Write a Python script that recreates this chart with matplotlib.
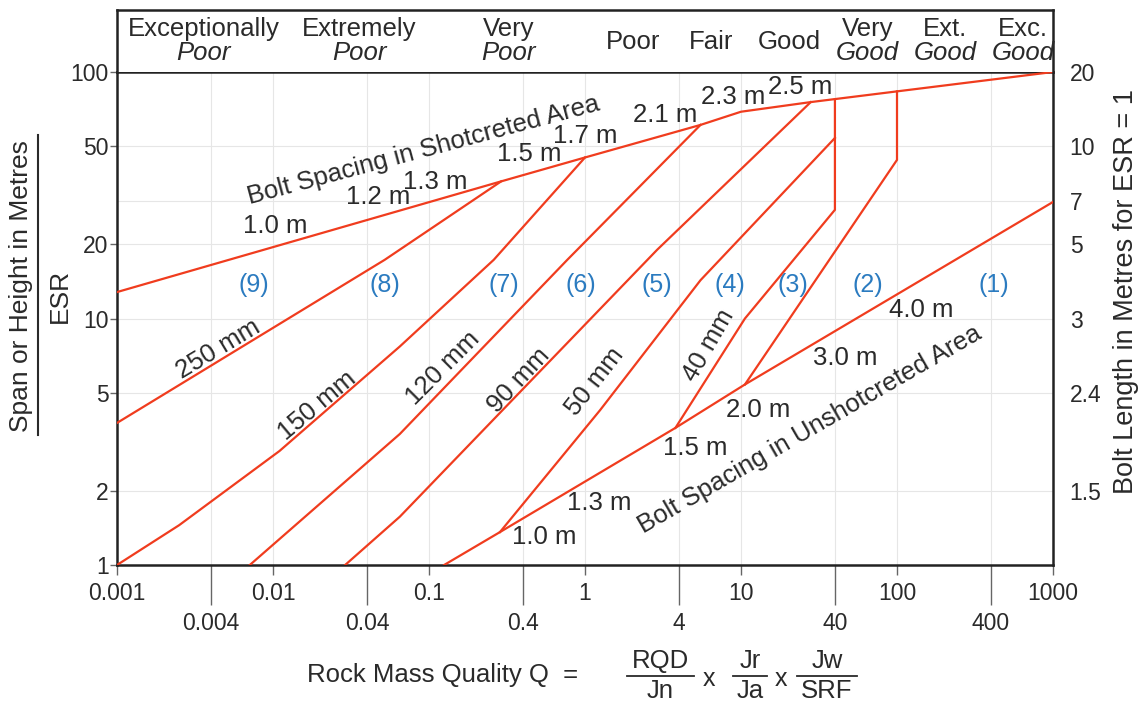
import matplotlib.pyplot as plt
from matplotlib.lines import Line2D
from matplotlib.ticker import NullLocator

plt.rcParams['font.family'] = ['Liberation Sans', 'DejaVu Sans']

# x axis: rock mass quality Q
q_ticks = [0.001, 0.01, 0.1, 1, 10, 100, 1000]
q_ticks_low = [0.004, 0.04, 0.4, 4, 40, 400]
# left axis: span / ESR
span_ticks = [1, 2, 5, 10, 20, 50, 100]
# right axis: bolt length for ESR = 1
bolt_pos = [2, 5, 10, 20, 30, 50, 100]
bolt_len = ['1.5', '2.4', '3', '5', '7', '10', '20']

# rock mass classes along the top
class_edges = [0.001, 0.01, 0.1, 1, 4, 10, 40, 100, 400, 1000]
class_top = ['Exceptionally', 'Extremely', 'Very', 'Poor', 'Fair', 'Good', 'Very', 'Ext.', 'Exc.']
class_bottom = ['Poor', 'Poor', 'Poor', '', '', '', 'Good', 'Good', 'Good']
region_ids = ['(9)', '(8)', '(7)', '(6)', '(5)', '(4)', '(3)', '(2)', '(1)']
region_q = [0.0075, 0.052, 0.3, 0.94, 2.9, 8.5, 21.5, 65, 420]

# bolt spacing boundaries
shot_q = [0.001, 0.29, 1.0, 5.5, 10, 28, 1000]
shot_y = [12.8, 36, 45, 61, 69, 75.5, 100]
unshot_q = [0.125, 0.285, 3.8, 10.6, 1000]
unshot_y = [1.0, 1.36, 3.6, 5.4, 29.7]

# shotcrete thickness curves
t250_q = [0.001, 0.0116, 0.052, 0.29]
t250_y = [3.77, 9.7, 17.3, 36]
t150_q = [0.001, 0.0025, 0.011, 0.065, 0.26, 1.0]
t150_y = [1.0, 1.45, 2.9, 7.7, 17.3, 45]
t120_q = [0.0071, 0.065, 0.77, 5.5]
t120_y = [1.0, 3.4, 17.3, 61]
t90_q = [0.029, 0.065, 2.9, 28]
t90_y = [1.0, 1.57, 19, 75.5]
t50_q = [0.285, 1.25, 5.5, 40]
t50_y = [1.36, 4.25, 14.3, 54]
t40_q = [3.8, 10.6, 40, 40]
t40_y = [3.6, 10, 27.6, 77.6]
b23_q = [10.6, 100, 100]
b23_y = [5.4, 44, 83.4]

RED = '#f03c1e'
BLUE = '#2b7bc0'
TXT = '#2a2a2a'

fig = plt.figure(figsize=(11.39, 7.01), dpi=100)
W, H = 1139, 701
L, R, T, B = 117, 1053, 72, 565
ax = fig.add_axes([L / W, 1 - B / H, (R - L) / W, (B - T) / H])
ax.set_xscale('log')
ax.set_yscale('log')
ax.set_xlim(0.001, 1000)
ax.set_ylim(1, 100)

# faint grid
for q in q_ticks[1:-1] + q_ticks_low:
    ax.axvline(q, color='#e6e6e6', lw=0.8, zorder=0)
for s in [2, 5, 10, 20, 30, 50]:
    ax.axhline(s, color='#e6e6e6', lw=0.8, zorder=0)

for qq, yy in [(shot_q, shot_y), (unshot_q, unshot_y), (t250_q, t250_y),
               (t150_q, t150_y), (t120_q, t120_y), (t90_q, t90_y),
               (t50_q, t50_y), (t40_q, t40_y), (b23_q, b23_y)]:
    ax.plot(qq, yy, color=RED, lw=1.6, solid_joinstyle='miter', zorder=3)

# ticks
ax.set_xticks(q_ticks)
ax.set_xticklabels(['0.001', '0.01', '0.1', '1', '10', '100', '1000'])
ax.set_xticks(q_ticks_low, minor=True)
ax.set_xticklabels(['0.004', '0.04', '0.4', '4', '40', '400'], minor=True)
ax.tick_params(axis='x', which='major', length=7, width=1, pad=5,
               labelsize=16.5, color='#666', labelcolor=TXT)
ax.tick_params(axis='x', which='minor', length=29, width=1, pad=5,
               labelsize=16.5, color='#666', labelcolor=TXT)
ax.set_yticks(span_ticks)
ax.set_yticklabels([str(v) for v in span_ticks])
ax.yaxis.set_minor_locator(NullLocator())
ax.tick_params(axis='y', length=5, width=1, pad=1, labelsize=16.5,
               color='#666', labelcolor=TXT)
for sp in ax.spines.values():
    sp.set_linewidth(1.8)
    sp.set_color('#222')

ax2 = ax.twinx()
ax2.set_yscale('log')
ax2.set_ylim(1, 100)
ax2.set_yticks(bolt_pos)
ax2.set_yticklabels(bolt_len)
ax2.yaxis.set_minor_locator(NullLocator())
ax2.tick_params(axis='y', length=0, pad=12, labelsize=16.5, labelcolor=TXT)
for sp in ax2.spines.values():
    sp.set_visible(False)

# class box on top
axt = fig.add_axes([L / W, 1 - T / H, (R - L) / W, (T - 10) / H])
axt.set_xscale('log')
axt.set_xlim(0.001, 1000)
axt.set_ylim(0, 1)
axt.set_xticks([])
axt.set_yticks([])
axt.xaxis.set_minor_locator(NullLocator())
for sp in axt.spines.values():
    sp.set_linewidth(1.8)
    sp.set_color('#222')
axt.spines['bottom'].set_visible(False)
for i in range(len(class_top)):
    xc = (class_edges[i] * class_edges[i + 1]) ** 0.5
    dx = 6 if i < 2 else 1   # nudge, points
    if class_bottom[i]:
        axt.annotate(class_top[i], (xc, 0.69), xytext=(dx, 0), textcoords='offset points',
                     ha='center', va='center', fontsize=18.5, color=TXT)
        axt.annotate(class_bottom[i], (xc, 0.30), xytext=(dx, 0), textcoords='offset points',
                     ha='center', va='center', fontsize=18.5, style='italic', color=TXT)
    else:
        axt.annotate(class_top[i], (xc, 0.48), xytext=(dx, 0), textcoords='offset points',
                     ha='center', va='center', fontsize=18.5, color=TXT)

# region numbers
for q, lab in zip(region_q, region_ids):
    ax.text(q, 13.7, lab, ha='center', va='center', fontsize=18, color=BLUE)

def lbl(q, y, s, rot=0):
    ax.text(q, y, s, ha='center', va='center', fontsize=18.5, color=TXT,
            rotation=rot, rotation_mode='anchor', zorder=4)

# shotcreted spacing labels
lbl(0.0916, 48.3, 'Bolt Spacing in Shotcreted Area', 15)
lbl(0.0103, 23.7, '1.0 m')
lbl(0.0471, 31.1, '1.2 m')
lbl(0.109, 35.8, '1.3 m')
lbl(0.438, 46.5, '1.5 m')
lbl(1.01, 55, '1.7 m')
lbl(3.26, 66.9, '2.1 m')
lbl(8.9, 79.2, '2.3 m')
lbl(23.9, 86.9, '2.5 m')
# unshotcreted spacing labels
lbl(27.7, 3.53, 'Bolt Spacing in Unshotcreted Area', 30)
lbl(144, 10.8, '4.0 m')
lbl(46.4, 6.9, '3.0 m')
lbl(12.8, 4.25, '2.0 m')
lbl(5.07, 2.98, '1.5 m')
lbl(1.23, 1.78, '1.3 m')
lbl(0.546, 1.30, '1.0 m')
# shotcrete thickness labels
lbl(0.00444, 7.5, '250 mm', 31)
lbl(0.0191, 4.42, '150 mm', 40)
lbl(0.123, 6.3, '120 mm', 45)
lbl(0.378, 5.63, '90 mm', 47)
lbl(1.16, 5.53, '50 mm', 52)
lbl(6.24, 7.8, '40 mm', 60)

# left axis label as a fraction
fig.text(21 / W, 1 - 286 / H, 'Span or Height in Metres', rotation=90,
         ha='center', va='center', fontsize=19, color=TXT)
fig.add_artist(Line2D([38 / W, 38 / W], [1 - 135 / H, 1 - 435 / H],
                      transform=fig.transFigure, color=TXT, lw=1.5))
fig.text(60 / W, 1 - 296 / H, 'ESR', rotation=90, ha='center', va='center',
         fontsize=19, color=TXT)

# right axis label
fig.text(1126 / W, 1 - 292 / H, 'Bolt Length in Metres for ESR = 1', rotation=90,
         ha='center', va='center', fontsize=19.5, color=TXT)

# x label with the Q formula
fig.text(443 / W, 1 - 675 / H, 'Rock Mass Quality Q  =', ha='center', va='center',
         fontsize=18.5, color=TXT)
for xc, num, den, x0, x1 in [(660, 'RQD', 'Jn', 627, 694), (750, 'Jr', 'Ja', 733, 767),
                              (827, 'Jw', 'SRF', 797, 857)]:
    fig.text(xc / W, 1 - 661 / H, num, ha='center', va='center', fontsize=18.5, color=TXT)
    fig.text(xc / W, 1 - 691 / H, den, ha='center', va='center', fontsize=18.5, color=TXT)
    fig.add_artist(Line2D([x0 / W, x1 / W], [1 - 676 / H, 1 - 676 / H],
                          transform=fig.transFigure, color=TXT, lw=1.3))
fig.text(709 / W, 1 - 679 / H, 'x', ha='center', va='center', fontsize=18, color=TXT)
fig.text(781 / W, 1 - 679 / H, 'x', ha='center', va='center', fontsize=18, color=TXT)

fig.savefig('out.png', dpi=100)
